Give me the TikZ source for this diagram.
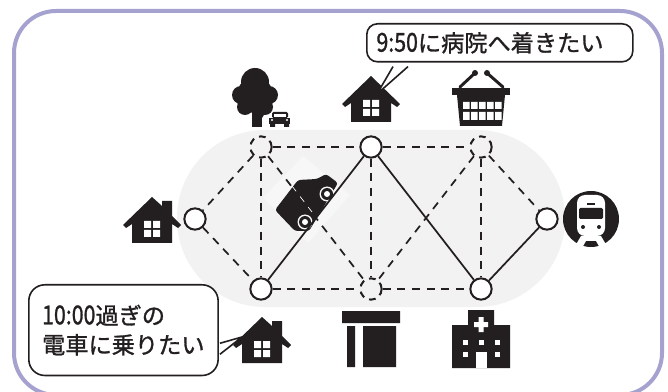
\documentclass[tikz,border=0pt]{standalone}
\usepackage{fontspec}
\usetikzlibrary{calc}
\setmainfont{Noto Sans CJK JP}[RawFeature={embolden=1.2}]
\definecolor{ink}{HTML}{231F20}
\definecolor{frameC}{HTML}{A6A2CF}
\definecolor{band}{HTML}{F2F2F2}
\definecolor{veil}{HTML}{F7F7F7}
\tikzset{
  stop/.style={circle,draw=ink,line width=1.5pt,fill=white,minimum size=16pt,inner sep=0pt},
  stopd/.style={stop,fill=band,dash pattern=on 5pt off 4pt},
  route/.style={draw=ink,line width=1.3pt},
  routed/.style={route,dash pattern=on 6pt off 5pt},
  callout/.style={draw=ink,line width=1.2pt,fill=white,rounded corners=8pt,inner sep=0pt,align=left,font=\fontsize{17.4pt}{22pt}\selectfont,text=ink},
}
\newcommand{\narrownum}[1]{\scalebox{.92}[1.12]{#1}}
\newcommand{\houseicon}[3]{%
  \begin{scope}[shift={(#1,#2)}]
    \fill[ink,line join=round] (0,-31) -- #3 (29,-3) -- (26,0) -- (20,-4) -- (20,15) -- (-20,15) -- (-20,-4) -- (-26,0) -- (-29,-3) -- cycle;
    \fill[white] (-8,-7) rectangle (-1,0) (1,-7) rectangle (8,0) (-8,2) rectangle (-1,9) (1,2) rectangle (8,9);
  \end{scope}}
\begin{document}
\begin{tikzpicture}[x=0.75pt,y=-0.75pt]
\useasboundingbox (0,0) rectangle (668,392);
\begin{scope}
\clip (0,0) rectangle (668,392);
\draw[frameC,line width=3pt,fill=white,rounded corners=31.5pt] (14,11) rectangle (662,395);
\end{scope}
\fill[band,rounded corners=66pt] (177,130) rectangle (565,307);
\fill[veil] (303,156) -- (350,195) -- (308,243) -- (263,198) -- cycle;
\node[stopd] (n1) at (261,147) {};
\node[stop]  (n2) at (371,147) {};
\node[stopd] (n3) at (481,147) {};
\node[stop]  (n4) at (195,219) {};
\node[stop]  (n5) at (547,219) {};
\node[stop]  (n6) at (261,289) {};
\node[stopd] (n7) at (371,289) {};
\node[stop]  (n8) at (481,289) {};
\path[routed] (n1) -- (n2);
\path[routed] (n2) -- (n3);
\path[routed] (n1) -- (n4);
\path[routed] (n1) -- (n6);
\path[routed] (n1) -- (n7);
\path[routed] (n2) -- (n7);
\path[routed] (n3) -- (n7);
\path[routed] (n3) -- (n8);
\path[routed] (n3) -- (n5);
\path[routed] (n4) -- (n6);
\path[routed] (n6) -- (n7);
\path[routed] (n7) -- (n8);
\path[route] (n2) -- (n8);
\path[route] (n8) -- (n5);
% car
\fill[ink,rounded corners=2pt] (275,210) -- (298,180) -- (317,179) -- (326,174) -- (338,183) -- (309,231) -- (295,231) -- cycle;
\draw[white,line width=0.5pt,dash pattern=on 5pt off 5pt] (292,186) -- (312,212);
\fill[veil] (327,194) circle (7.5) (305,222) circle (7.5);
\fill[ink] (327,194) circle (6) (305,222) circle (6);
\fill[white] (327,194) circle (3) (305,222) circle (3);
\path[route] (n2) -- (n6);
% tree
\fill[ink] (255,82) circle (14) (241,95) circle (9) (269,95) circle (9) (245,107) circle (8) (265,107) circle (8) (255,95) circle (18);
\fill[ink] (252,100) rectangle (262,127);
\fill[ink] (261,113) -- (267,105) -- (267,110) -- (262,118) -- cycle;
\fill[ink,rounded corners=1pt] (272,112) rectangle (288,118);
\fill[ink] (269,118) rectangle (290,124);
\fill[ink] (270,124) rectangle (275,127) (284,124) rectangle (289,127);
\fill[white] (274,114) rectangle (286,117.5);
\fill[white] (272,120) circle (1.2) (287,120) circle (1.2);
% houses
\houseicon{371}{107}{}
\houseicon{152}{228}{(10,-22) -- (10,-27) -- (20,-27) -- (20,-12) --}
\houseicon{262}{348}{(10,-22) -- (10,-27) -- (20,-27) -- (20,-12) --}
% basket
\fill[ink] (452,88) rectangle (510,95);
\fill[ink] (457,95) -- (505,95) -- (502,126) -- (460,126) -- cycle;
\foreach \i in {0,1,2,3,4}{\fill[white] ({463+\i*8},102) rectangle ({469.5+\i*8},109) ({463+\i*8},112) rectangle ({469.5+\i*8},120);}
\draw[ink,line width=2.2pt,line cap=round] (460,87) -- (475,73) (503,87) -- (487,73);
\fill[ink] (475,73) circle (3) (487,73) circle (3);
% train
\fill[ink] (591,219) circle (28);
\fill[white,rounded corners=6pt] (577,195) rectangle (605,236);
\fill[white] (581,236) -- (601,236) -- (608,248) -- (600,248) -- (596,241) -- (586,241) -- (582,248) -- (574,248) -- cycle;
\fill[ink,rounded corners=1pt] (579,208) rectangle (603,219);
\fill[ink] (587,203) rectangle (595,205);
\fill[ink] (583,227) circle (2) (599,227) circle (2);
% T building
\fill[ink] (342,311) rectangle (400,323) (347,326) rectangle (355,367) (363,326) rectangle (396,367);
% hospital
\fill[ink] (468,310) rectangle (494,326) (452,325) rectangle (510,368);
\fill[white] (474,322) rectangle (488,327) (478.5,317) rectangle (483.5,332);
\foreach \a/\b in {465/342,481/342,497/342,465/354,497/354}{\fill[white] (\a-2.5,\b-2.5) rectangle (\a+2.5,\b+2.5);}
\fill[white] (476,352) rectangle (487,368);
% callouts
\node[callout,minimum width=199.5pt,minimum height=28.5pt,anchor=north west,text width=199pt] (c1) at (366,23) {\hspace*{7pt}\narrownum{9:50}に病院へ着きたい};
\node[callout,minimum width=142pt,minimum height=68pt,anchor=north west,text width=142pt,rounded corners=12pt] (c2) at (28,284) {\hspace*{10pt}\narrownum{10:00}過ぎの\\\hspace*{10pt}電車に乗りたい};
\coordinate (t1) at (377,94);
\coordinate (t2) at (242,337);
\path[fill=white] ($(c1.south west)+(27,4)$) -- (t1) -- ($(c1.south west)+(42,4)$) -- cycle;
\draw[ink,line width=1.2pt] ($(c1.south west)+(27,4)$) -- (t1) -- ($(c1.south west)+(42,4)$);
\path[fill=white] ($(c2.south east)+(1,-33)$) -- (t2) -- ($(c2.south east)+(1,-22)$) -- cycle;
\draw[ink,line width=1.2pt] ($(c2.south east)+(1,-33)$) -- (t2) -- ($(c2.south east)+(1,-22)$);
\end{tikzpicture}
\end{document}
